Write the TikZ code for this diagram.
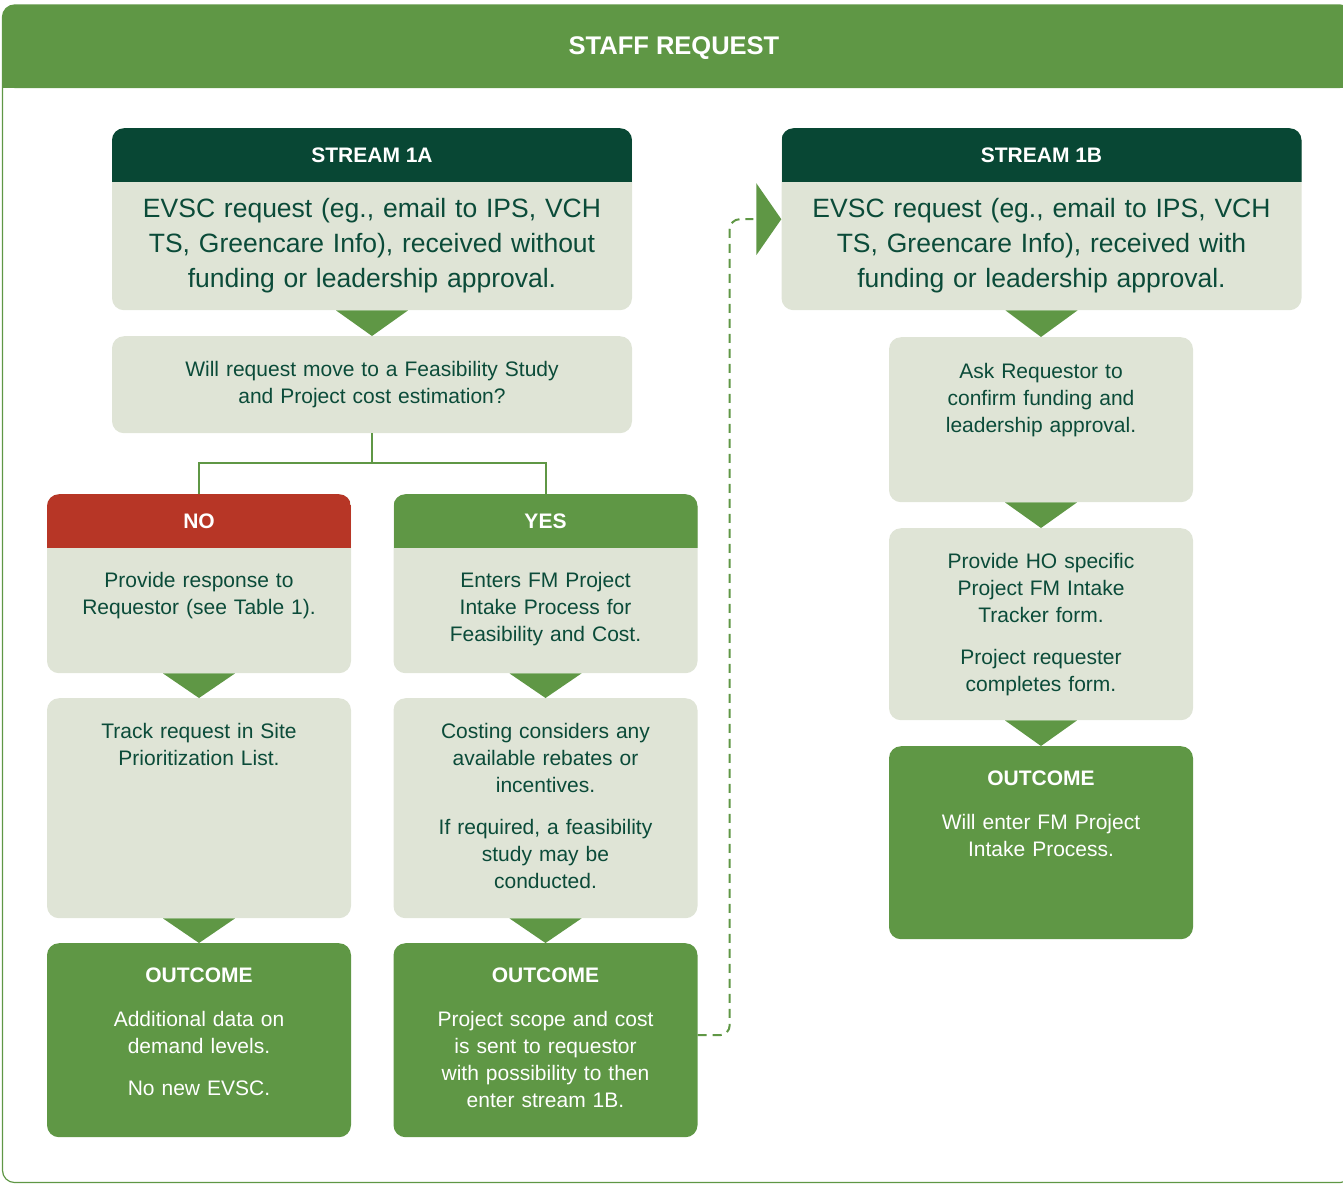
\documentclass[tikz,border=0pt]{standalone}
\usepackage{fontspec}
\setmainfont{Liberation Sans}
\usetikzlibrary{positioning}
\definecolor{leafgreen}{HTML}{5F9745}
\definecolor{pinegreen}{HTML}{084734}
\definecolor{sagebg}{HTML}{DFE4D6}
\definecolor{brickred}{HTML}{B73626}
\definecolor{inkgreen}{HTML}{0B4B39}

\begin{document}
\begin{tikzpicture}[x=1pt, y=-1pt,
        card/.style={fill=sagebg, rounded corners=12pt, anchor=north, inner sep=0pt, minimum width=304pt},
        wide/.style={minimum width=520pt},
        result/.style={card, fill=leafgreen},
        band/.style={path picture={\fill[#1, sharp corners] (path picture bounding box.north west) rectangle ([yshift=-54pt]path picture bounding box.north east);}},
        bodytxt/.style={font=\fontsize{21}{27}\selectfont, text=inkgreen, align=center, text width=290pt, anchor=base, inner sep=0pt},
        bigtxt/.style={bodytxt, font=\fontsize{26.5}{35}\selectfont, text width=510pt},
        whitetxt/.style={bodytxt, text=white},
        headtxt/.style={font=\fontsize{21}{25}\selectfont\bfseries, text=white, inner sep=0pt},
        link/.style={draw=leafgreen, line width=2pt},
        jumplink/.style={link, dash pattern=on 9pt off 6pt, rounded corners=10pt}]
        \useasboundingbox (0,0) rectangle (1343,1184);
        % frame and title band
        \draw[leafgreen, line width=1.2pt, rounded corners=12pt] (2.5,5) rectangle (1352,1182.5);
        \fill[leafgreen, rounded corners=12pt] (2.5,5) rectangle (1352,88);
        \fill[leafgreen] (2.5,50) rectangle (1352,88);
        \node[headtxt, font=\fontsize{25.5}{30}\selectfont\bfseries] (title) at (674,48) {STAFF REQUEST};

        % stream 1A
        \node[card, wide, band=pinegreen, minimum height=182pt] (s1a) at (372,128) {};
        \node[headtxt] (s1ahead) at (372,155) {STREAM 1A};
        \node[bigtxt] (s1atxt) at (372,217) {EVSC request (eg., email to IPS, VCH\\TS, Greencare Info), received without\\funding or leadership approval.};
        \node[card, wide, minimum height=97pt] (quest) at (372,336) {};
        \node[bodytxt, text width=500pt] (questtxt) at (372,376) {Will request move to a Feasibility Study\\and Project cost estimation?};

        \node[card, band=brickred, minimum height=179pt] (no) at (199,494) {};
        \node[headtxt] (nohead) at (199,521) {NO};
        \node[bodytxt] (notxt) at (199,587) {Provide response to\\Requestor (see Table 1).};
        \node[card, band=leafgreen, minimum height=179pt] (yes) at (545.5,494) {};
        \node[headtxt] (yeshead) at (545.5,521) {YES};
        \node[bodytxt] (yestxt) at (545.5,587) {Enters FM Project\\Intake Process for\\Feasibility and Cost.};

        \node[card, minimum height=220pt] (track) at (199,698) {};
        \node[bodytxt] (tracktxt) at (199,738) {Track request in Site\\Prioritization List.};
        \node[card, minimum height=220pt] (cost) at (545.5,698) {};
        \node[bodytxt] (costtxt) at (545.5,738) {Costing considers any\\available rebates or\\incentives.\\[15pt]If required, a feasibility\\study may be\\conducted.};

        \node[result, minimum height=194pt] (outl) at (199,943) {};
        \node[headtxt] (outlhead) at (199,975) {OUTCOME};
        \node[whitetxt] (outltxt) at (199,1026) {Additional data on\\demand levels.\\[15pt]No new EVSC.};
        \node[result, minimum height=194pt] (outm) at (545.5,943) {};
        \node[headtxt] (outmhead) at (545.5,975) {OUTCOME};
        \node[whitetxt] (outmtxt) at (545.5,1026) {Project scope and cost\\is sent to requestor\\with possibility to then\\enter stream 1B.};

        % stream 1B
        \node[card, wide, band=pinegreen, minimum height=182pt] (s1b) at (1041.5,128) {};
        \node[headtxt] (s1bhead) at (1041.5,155) {STREAM 1B};
        \node[bigtxt] (s1btxt) at (1041.5,217) {EVSC request (eg., email to IPS, VCH\\TS, Greencare Info), received with\\funding or leadership approval.};
        \node[card, minimum height=165pt] (ask) at (1041,337) {};
        \node[bodytxt] (asktxt) at (1041,378) {Ask Requestor to\\confirm funding and\\leadership approval.};
        \node[card, minimum height=192pt] (hoform) at (1041,528) {};
        \node[bodytxt] (hoformtxt) at (1041,568) {Provide HO specific\\Project FM Intake\\Tracker form.\\[15pt]Project requester\\completes form.};
        \node[result, minimum height=193pt] (outr) at (1041,746) {};
        \node[headtxt] (outrhead) at (1041,778) {OUTCOME};
        \node[whitetxt] (outrtxt) at (1041,829) {Will enter FM Project\\Intake Process.};

        \draw[link] (quest.south) -- ++(0,30) -| (no.north);
        \draw[link] (quest.south) -- ++(0,30) -| (yes.north);
        \foreach \up/\down in {s1a/quest, no/track, yes/cost, track/outl, cost/outm, s1b/ask, ask/hoform, hoform/outr}
            \fill[leafgreen] ([xshift=-36pt]\up.south) -- ([xshift=36pt]\up.south) -- (\down.north) -- cycle;
        % back into stream 1B
        \draw[jumplink] ([yshift=5pt]outm.east) -- ++(32,0) |- ([xshift=-28pt]s1b.west);
        \fill[leafgreen] ([xshift=-25pt,yshift=36pt]s1b.west) -- ([xshift=-25pt,yshift=-36pt]s1b.west) -- (s1b.west) -- cycle;
    \end{tikzpicture}
\end{document}
